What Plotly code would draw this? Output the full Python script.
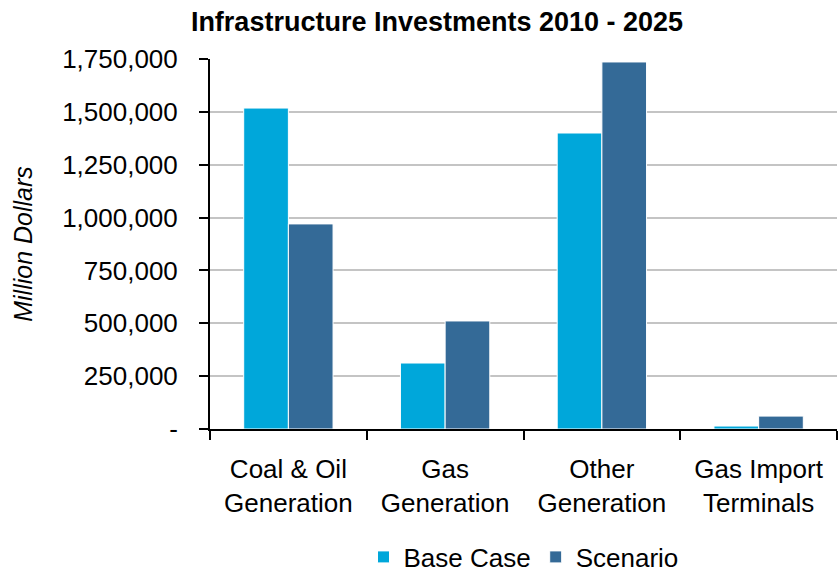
import plotly.graph_objects as go

categories = ["Coal & Oil<br>Generation", "Gas<br>Generation", "Other<br>Generation", "Gas Import<br>Terminals"]
base_case = [1518000, 312000, 1400000, 14000]
scenario = [970000, 511000, 1736000, 61000]
y_tickvals = [0, 250000, 500000, 750000, 1000000, 1250000, 1500000, 1750000]
y_ticktext = ["-", "250,000", "500,000", "750,000", "1,000,000", "1,250,000", "1,500,000", "1,750,000"]

FONT = "Liberation Sans, Arial, sans-serif"

fig = go.Figure()
fig.add_trace(go.Bar(name="Base Case", x=categories, y=base_case,
                     marker=dict(color="#00A7DA", line=dict(color="white", width=1))))
fig.add_trace(go.Bar(name="Scenario", x=categories, y=scenario,
                     marker=dict(color="#346A97", line=dict(color="white", width=1))))

fig.update_layout(
    width=838, height=572,
    margin=dict(l=210, r=1, t=59, b=143),
    paper_bgcolor="white", plot_bgcolor="white",
    barmode="group", bargap=0.43, bargroupgap=0,
    font=dict(family=FONT, size=26, color="black"),
    title=dict(text="<b>Infrastructure Investments 2010 - 2025</b>",
               font=dict(family=FONT, size=27, color="black"),
               x=437 / 838, xanchor="center", y=0.963, yanchor="middle"),
    legend=dict(orientation="h", x=0.5, xanchor="center",
                yref="container", y=(572 - 557) / 572, yanchor="middle",
                font=dict(size=26), itemwidth=30, traceorder="normal"),
    showlegend=True,
)
fig.update_xaxes(
    showline=True, linecolor="black", linewidth=2,
    ticks="outside", ticklen=9, tickwidth=2, tickcolor="black",
    tickson="boundaries", showgrid=False, automargin=False,
    tickfont=dict(size=26), ticklabelstandoff=16,
)
fig.update_yaxes(
    range=[0, 1750000], tickvals=y_tickvals, ticktext=y_ticktext,
    showline=True, linecolor="black", linewidth=2,
    ticks="outside", ticklen=9, tickwidth=2, tickcolor="black",
    showgrid=True, gridcolor="#C4C4C4", gridwidth=1.5,
    zeroline=False, automargin=True,
    tickfont=dict(size=26), ticklabelstandoff=16,
    title=dict(text="<i>Million Dollars</i>", font=dict(size=25), standoff=22),
)
fig.write_html("out.html")
